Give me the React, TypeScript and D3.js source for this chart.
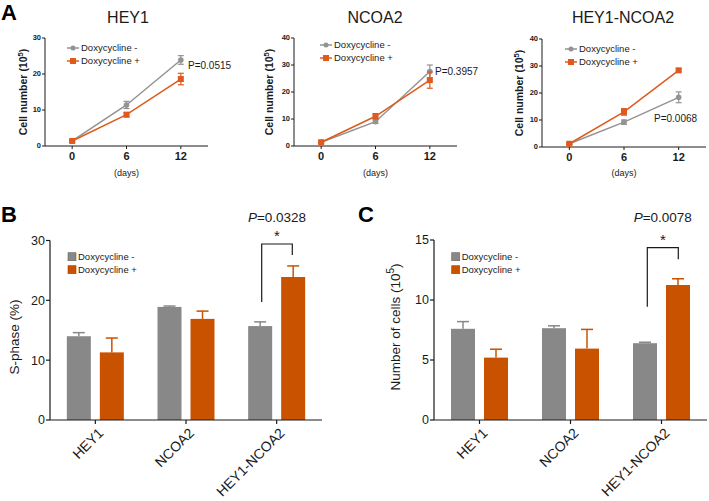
import React from "react";
import * as d3 from "d3";

// ---------- Data ----------
const days = [0, 6, 12];
const lineTitles = ["HEY1", "NCOA2", "HEY1-NCOA2"];
const lineYMax = [30, 40, 40];
const lineYTicks = [[0, 10, 20, 30], [0, 10, 20, 30, 40], [0, 10, 20, 30, 40]];
const doxMinusMean = [[1.4, 11.4, 23.9], [1.4, 9.0, 27.6], [1.2, 9.2, 18.4]];
const doxMinusErr = [[0.3, 1.0, 1.2], [0.3, 0.6, 2.4], [0.3, 0.8, 2.0]];
const doxPlusMean = [[1.4, 8.7, 18.6], [1.4, 11.0, 24.4], [1.2, 13.0, 28.4]];
const doxPlusErr = [[0.3, 0.6, 1.6], [0.3, 1.0, 3.0], [0.3, 1.2, 0.6]];
const linePValues = ["P=0.0515", "P=0.3957", "P=0.0068"];

const categories = ["HEY1", "NCOA2", "HEY1-NCOA2"];
const sphaseMinus = [14.0, 18.9, 15.7];
const sphaseMinusErr = [0.6, 0.15, 0.7];
const sphasePlus = [11.3, 16.9, 23.9];
const sphasePlusErr = [2.4, 1.3, 1.85];
const sphaseTicks = [0, 10, 20, 30];
const cellsMinus = [7.6, 7.65, 6.4];
const cellsMinusErr = [0.6, 0.2, 0.08];
const cellsPlus = [5.2, 5.95, 11.25];
const cellsPlusErr = [0.7, 1.6, 0.52];
const cellsTicks = [0, 5, 10, 15];
const seriesNames = ["Doxycycline -", "Doxycycline +"];

// ---------- Styles ----------
const FONT = "'Liberation Sans', Arial, Helvetica, sans-serif";
const GRAY_LINE = "#939393";
const ORANGE_LINE = "#df5a1c";
const GRAY_BAR = "#888888";
const ORANGE_BAR = "#c85200";
const INK = "#1a1a1a";

const lineLayouts = [
  { left: 45, right: 208, top: 38, bottom: 146, titleX: 128, ylabX: 27, legX: 67, legY: 48, pX: 188, pY: 69 },
  { left: 294, right: 457, top: 38, bottom: 146, titleX: 375, ylabX: 273, legX: 320, legY: 45, pX: 435, pY: 75 },
  { left: 542, right: 706, top: 39, bottom: 147, titleX: 623, ylabX: 523, legX: 565, legY: 49, pX: 654, pY: 122 },
];

function LinePanel({ i }: { i: number }) {
  const L = lineLayouts[i];
  const x = d3.scaleLinear().domain([-3, 15]).range([L.left, L.right]);
  const y = d3.scaleLinear().domain([0, lineYMax[i]]).range([L.bottom, L.top]);
  const line = d3
    .line<number>()
    .x((_, k) => x(days[k]))
    .y((d) => y(d));
  const series = [
    { mean: doxMinusMean[i], err: doxMinusErr[i], color: GRAY_LINE, sq: false },
    { mean: doxPlusMean[i], err: doxPlusErr[i], color: ORANGE_LINE, sq: true },
  ];
  const midX = (x(0) + x(12)) / 2;
  return (
    <g>
      <text x={L.titleX} y={23} textAnchor="middle" fontSize={16} fill={INK}>
        {lineTitles[i]}
      </text>
      <line x1={L.left} x2={L.left} y1={L.top} y2={L.bottom} stroke={INK} strokeWidth={1} />
      <line x1={L.left} x2={L.right} y1={L.bottom} y2={L.bottom} stroke={INK} strokeWidth={1} />
      {lineYTicks[i].map((t) => (
        <g key={t}>
          <line x1={L.left - 3} x2={L.left} y1={y(t)} y2={y(t)} stroke={INK} />
          <text x={L.left - 4} y={y(t)} dy="0.33em" textAnchor="end" fontSize={7.5} fontWeight="bold" fill={INK}>
            {t}
          </text>
        </g>
      ))}
      {days.map((d) => (
        <g key={d}>
          <line x1={x(d)} x2={x(d)} y1={L.bottom} y2={L.bottom + 3} stroke={INK} />
          <text x={x(d)} y={L.bottom + 14} textAnchor="middle" fontSize={11} fontWeight="bold" fill={INK}>
            {d}
          </text>
        </g>
      ))}
      <text x={midX} y={176} textAnchor="middle" fontSize={9} fill={INK}>
        (days)
      </text>
      <text
        transform={`translate(${L.ylabX},${(L.top + L.bottom) / 2}) rotate(-90)`}
        textAnchor="middle"
        fontSize={10.5}
        fontWeight="bold"
        fill={INK}
      >
        Cell number (10<tspan dy={-4} fontSize={7.5}>5</tspan>
        <tspan dy={4}>)</tspan>
      </text>
      {series.map((s, si) => (
        <g key={si}>
          <path d={line(s.mean) || ""} fill="none" stroke={s.color} strokeWidth={1.5} />
          {s.mean.map((m, k) => {
            const cx = x(days[k]);
            return (
              <g key={k}>
                <line x1={cx} x2={cx} y1={y(m - s.err[k])} y2={y(m + s.err[k])} stroke={s.color} strokeWidth={1.2} />
                <line x1={cx - 3} x2={cx + 3} y1={y(m + s.err[k])} y2={y(m + s.err[k])} stroke={s.color} strokeWidth={1.2} />
                <line x1={cx - 3} x2={cx + 3} y1={y(m - s.err[k])} y2={y(m - s.err[k])} stroke={s.color} strokeWidth={1.2} />
                {s.sq ? (
                  <rect x={cx - 3} y={y(m) - 3} width={6} height={6} fill={s.color} />
                ) : (
                  <circle cx={cx} cy={y(m)} r={2.8} fill={s.color} />
                )}
              </g>
            );
          })}
        </g>
      ))}
      {series.map((s, si) => {
        const ly = L.legY + si * 13;
        return (
          <g key={si}>
            <line x1={L.legX} x2={L.legX + 12} y1={ly} y2={ly} stroke={s.color} strokeWidth={1.5} />
            {s.sq ? (
              <rect x={L.legX + 3} y={ly - 3} width={6} height={6} fill={s.color} />
            ) : (
              <circle cx={L.legX + 6} cy={ly} r={2.5} fill={s.color} />
            )}
            <text x={L.legX + 14} y={ly} dy="0.35em" fontSize={9.5} fill={INK}>
              {seriesNames[si]}
            </text>
          </g>
        );
      })}
      <text x={L.pX} y={L.pY} fontSize={10} fill={INK}>
        {linePValues[i]}
      </text>
    </g>
  );
}

type BarCfg = {
  left: number;
  right: number;
  top: number;
  bottom: number;
  yMax: number;
  ticks: number[];
  minus: number[];
  minusErr: number[];
  plus: number[];
  plusErr: number[];
  letter: string;
  letterX: number;
  ylabX: number;
  ylabY: number;
  ylab: React.ReactNode;
  legX: number;
  pText: string;
  bracket: { l: number; r: number; lBot: number; rBot: number; top: number };
};

function BarPanel({ c }: { c: BarCfg }) {
  const x = d3.scaleBand<string>().domain(categories).range([c.left, c.right]).padding(0);
  const y = d3.scaleLinear().domain([0, c.yMax]).range([c.bottom, c.top]);
  const bw = 24;
  const off = 16.5;
  const series = [
    { v: c.minus, e: c.minusErr, color: GRAY_BAR, dx: -off },
    { v: c.plus, e: c.plusErr, color: ORANGE_BAR, dx: off },
  ];
  const b = c.bracket;
  return (
    <g>
      <text x={c.letterX} y={222} fontSize={22} fontWeight="bold" fill="#000">
        {c.letter}
      </text>
      {series.map((s, si) =>
        categories.map((cat, k) => {
          const cx = (x(cat) as number) + x.bandwidth() / 2 + s.dx;
          const top = y(s.v[k]);
          const et = y(s.v[k] + s.e[k]);
          return (
            <g key={`${si}-${k}`}>
              <line x1={cx} x2={cx} y1={top} y2={et} stroke={s.color} strokeWidth={1.5} />
              <line x1={cx - 6} x2={cx + 6} y1={et} y2={et} stroke={s.color} strokeWidth={1.5} />
              <rect x={cx - bw / 2} y={top} width={bw} height={c.bottom - top} fill={s.color} />
            </g>
          );
        })
      )}
      <line x1={c.left} x2={c.left} y1={c.top} y2={c.bottom} stroke={INK} strokeWidth={1.2} />
      <line x1={c.left} x2={c.right} y1={c.bottom} y2={c.bottom} stroke={INK} strokeWidth={1.2} />
      {c.ticks.map((t) => (
        <g key={t}>
          <line x1={c.left - 4} x2={c.left} y1={y(t)} y2={y(t)} stroke={INK} strokeWidth={1.2} />
          <text x={c.left - 5} y={y(t)} dy="0.35em" textAnchor="end" fontSize={12.5} fill={INK}>
            {t}
          </text>
        </g>
      ))}
      {categories.map((cat) => {
        const cx = (x(cat) as number) + x.bandwidth() / 2;
        return (
          <g key={cat}>
            <line x1={cx} x2={cx} y1={c.bottom} y2={c.bottom + 4} stroke={INK} strokeWidth={1.2} />
            <text
              transform={`translate(${cx + 3},${c.bottom + 8}) rotate(-45)`}
              textAnchor="end"
              dy="0.6em"
              fontSize={14}
              fill={INK}
            >
              {cat}
            </text>
          </g>
        );
      })}
      <text
        transform={`translate(${c.ylabX},${c.ylabY}) rotate(-90)`}
        textAnchor="middle"
        fontSize={13.5}
        fill={INK}
      >
        {c.ylab}
      </text>
      {series.map((s, si) => {
        const ly = 256.7 + si * 13;
        return (
          <g key={si}>
            <rect x={c.legX} y={ly - 4} width={8} height={8} fill={s.color} stroke={si === 0 ? "#666" : "#a84400"} strokeWidth={0.6} />
            <text x={c.legX + 10} y={ly} dy="0.35em" fontSize={9.5} fill={INK}>
              {seriesNames[si]}
            </text>
          </g>
        );
      })}
      <path
        d={`M${b.l},${b.lBot} V${b.top} H${b.r} V${b.rBot}`}
        fill="none"
        stroke={INK}
        strokeWidth={1.2}
      />
      <text x={(b.l + b.r) / 2} y={b.top - 3} textAnchor="middle" fontSize={15} fill={INK}>
        *
      </text>
      <text x={(b.l + b.r) / 2} y={221.5} textAnchor="middle" fontSize={13.5} fill={INK}>
        <tspan fontStyle="italic">P</tspan>
        {c.pText}
      </text>
    </g>
  );
}

export default function App() {
  const bCfg: BarCfg = {
    left: 50,
    right: 322,
    top: 240.5,
    bottom: 420,
    yMax: 30,
    ticks: sphaseTicks,
    minus: sphaseMinus,
    minusErr: sphaseMinusErr,
    plus: sphasePlus,
    plusErr: sphasePlusErr,
    letter: "B",
    letterX: 1,
    ylabX: 19,
    ylabY: 337,
    ylab: "S-phase (%)",
    legX: 68,
    pText: "=0.0328",
    bracket: { l: 261.7, r: 292.3, lBot: 302, rBot: 255, top: 244 },
  };
  const cCfg: BarCfg = {
    left: 434,
    right: 707,
    top: 240,
    bottom: 420,
    yMax: 15,
    ticks: cellsTicks,
    minus: cellsMinus,
    minusErr: cellsMinusErr,
    plus: cellsPlus,
    plusErr: cellsPlusErr,
    letter: "C",
    letterX: 358,
    ylabX: 400,
    ylabY: 327,
    ylab: (
      <>
        Number of cells (10<tspan dy={-6} fontSize={10}>5</tspan>
        <tspan dy={6}>)</tspan>
      </>
    ),
    legX: 451.7,
    pText: "=0.0078",
    bracket: { l: 647.3, r: 678.3, lBot: 306.7, rBot: 259.3, top: 247.7 },
  };
  return (
    <svg
      width={709}
      height={501}
      viewBox="0 0 709 501"
      style={{ position: "absolute", left: 0, top: 0, background: "#fff" }}
      fontFamily={FONT}
    >
      <rect width={709} height={501} fill="#fff" />
      <text x={1} y={20} fontSize={22} fontWeight="bold" fill="#000">
        A
      </text>
      {[0, 1, 2].map((i) => (
        <LinePanel key={i} i={i} />
      ))}
      <BarPanel c={bCfg} />
      <BarPanel c={cCfg} />
    </svg>
  );
}
